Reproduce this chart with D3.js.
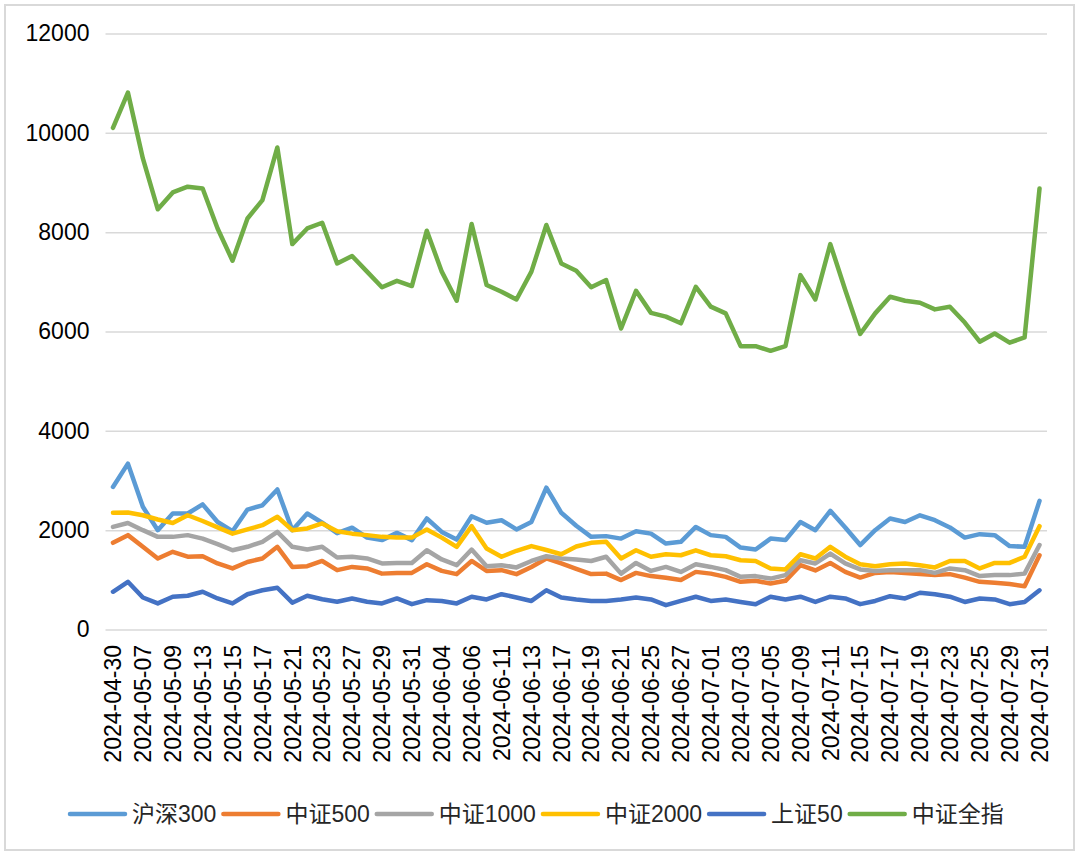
<!DOCTYPE html>
<html>
<head>
<meta charset="utf-8">
<script src="https://cdn.jsdelivr.net/npm/d3@7/dist/d3.min.js"></script>
<style>
  html, body { margin: 0; padding: 0; background: #fff; }
  svg { display: block; }
  text { font-family: "Liberation Sans", Arial, "Noto Sans CJK SC", sans-serif; }
</style>
</head>
<body>
<svg id="chart" width="1080" height="856"></svg>
<script>
const dates = [
  "2024-04-30","2024-05-06","2024-05-07","2024-05-08","2024-05-09","2024-05-10",
  "2024-05-13","2024-05-14","2024-05-15","2024-05-16","2024-05-17",
  "2024-05-20","2024-05-21","2024-05-22","2024-05-23","2024-05-24",
  "2024-05-27","2024-05-28","2024-05-29","2024-05-30","2024-05-31",
  "2024-06-03","2024-06-04","2024-06-05","2024-06-06","2024-06-07",
  "2024-06-11","2024-06-12","2024-06-13","2024-06-14",
  "2024-06-17","2024-06-18","2024-06-19","2024-06-20","2024-06-21",
  "2024-06-24","2024-06-25","2024-06-26","2024-06-27","2024-06-28",
  "2024-07-01","2024-07-02","2024-07-03","2024-07-04","2024-07-05",
  "2024-07-08","2024-07-09","2024-07-10","2024-07-11","2024-07-12",
  "2024-07-15","2024-07-16","2024-07-17","2024-07-18","2024-07-19",
  "2024-07-22","2024-07-23","2024-07-24","2024-07-25","2024-07-26",
  "2024-07-29","2024-07-30","2024-07-31"
];

const seriesNames = ["沪深300","中证500","中证1000","中证2000","上证50","中证全指"];
const seriesColors = ["#5B9BD5","#ED7D31","#A5A5A5","#FFC000","#4472C4","#70AD47"];

const hs300 = [2870,3340,2470,2000,2335,2335,2520,2165,1980,2415,2500,2820,2000,2335,2150,1940,
  2050,1850,1800,1945,1800,2235,1965,1810,2280,2150,2200,2015,2165,2855,2350,2090,
  1865,1880,1830,1980,1930,1730,1765,2065,1900,1865,1650,1610,1830,1800,2165,2000,
  2390,2055,1700,2000,2235,2165,2300,2200,2055,1850,1920,1900,1680,1665,2590];
const zz500 = [1745,1900,1665,1430,1565,1465,1475,1330,1230,1360,1430,1665,1260,1275,1380,1195,
  1260,1230,1125,1140,1140,1315,1180,1115,1380,1180,1195,1115,1260,1430,1330,1220,
  1115,1125,995,1140,1075,1040,995,1160,1125,1060,960,980,925,980,1295,1190,
  1340,1160,1045,1140,1160,1140,1115,1095,1115,1045,960,940,915,870,1495];
const zz1000 = [2065,2145,2000,1865,1865,1900,1830,1720,1595,1665,1765,1965,1665,1610,1665,1450,
  1465,1430,1330,1340,1340,1595,1410,1295,1610,1275,1295,1250,1380,1475,1430,1410,
  1380,1465,1125,1340,1180,1260,1160,1315,1260,1195,1060,1075,1025,1095,1395,1330,
  1530,1330,1210,1180,1195,1195,1195,1140,1230,1195,1075,1095,1095,1125,1700];
const zz2000 = [2350,2355,2300,2215,2145,2300,2185,2055,1930,2015,2100,2270,2000,2035,2135,1980,
  1930,1900,1865,1850,1850,2015,1850,1665,2080,1630,1465,1585,1680,1600,1515,1670,
  1745,1765,1430,1595,1465,1515,1495,1595,1495,1475,1395,1380,1230,1210,1515,1430,
  1665,1465,1315,1275,1315,1330,1295,1250,1380,1380,1230,1340,1340,1465,2080];
const sz50 = [760,960,645,525,660,680,760,625,525,710,790,840,540,680,610,560,
  625,560,525,625,510,590,575,525,660,605,710,645,575,790,645,605,
  575,575,605,645,605,490,575,660,575,605,555,510,660,605,660,555,
  660,625,510,575,670,625,740,710,660,555,625,605,510,555,790];
const zzqz = [10100,10810,9485,8460,8800,8915,8880,8075,7425,8275,8645,9705,7760,8075,8190,7370,7520,
  7205,6890,7020,6915,8030,7205,6620,8165,6935,6800,6645,7205,8145,7370,7225,6890,7035,6060,6820,6375,6300,6165,6900,
  6500,6365,5705,5705,5610,5705,7135,6645,7760,6835,5950,6365,6700,6620,6580,6445,6500,6180,5795,5960,5775,5880,8880];

const yTicks = [0,2000,4000,6000,8000,10000,12000];
const xTickDates = dates.filter((d,i) => i % 2 === 0);

const seriesValues = [hs300, zz500, zz1000, zz2000, sz50, zzqz];

const svg = d3.select("#chart");
const W = 1080, H = 856;
const plot = {left: 105.5, right: 1047, top: 33.5, bottom: 629.5};

svg.append("rect").attr("x",0).attr("y",0).attr("width",W).attr("height",H).attr("fill","#fff");
svg.append("rect").attr("x",5).attr("y",5).attr("width",1069).attr("height",845)
  .attr("fill","none").attr("stroke","#d9d9d9").attr("stroke-width",2);

const x = d3.scaleBand().domain(dates).range([plot.left, plot.right]);
const cx = d => x(d) + x.bandwidth()/2;
const y = d3.scaleLinear().domain([0,12000]).range([plot.bottom, plot.top]);

// gridlines
const grid = svg.append("g").attr("transform",`translate(${plot.left},0)`)
  .call(d3.axisLeft(y).tickValues(yTicks).tickSize(-(plot.right-plot.left)).tickFormat(""));
grid.select(".domain").remove();
grid.selectAll("line").attr("stroke","#d9d9d9").attr("stroke-width",1.5);

// y labels
const ya = svg.append("g").attr("transform",`translate(${plot.left},0)`)
  .call(d3.axisLeft(y).tickValues(yTicks).tickSize(0).tickPadding(16).tickFormat(d3.format("d")));
ya.select(".domain").remove();
ya.selectAll("text").attr("font-size",23).attr("fill","#000")
  .style("font-family",'"Liberation Sans", Arial, sans-serif');

// x labels
const xa = svg.append("g").attr("transform",`translate(0,${plot.bottom})`)
  .call(d3.axisBottom(x).tickValues(xTickDates).tickSize(0));
xa.select(".domain").remove();
xa.selectAll("text")
  .attr("transform","rotate(-90)")
  .attr("x",-15.5).attr("y",0).attr("dy","0.36em")
  .attr("text-anchor","end")
  .attr("font-size",23).attr("fill","#000")
  .style("font-family",'"Liberation Sans", Arial, sans-serif');

// lines
const line = d3.line().x((v,i) => cx(dates[i])).y(v => y(v));
seriesValues.forEach((vals, k) => {
  svg.append("path").datum(vals)
    .attr("d", line)
    .attr("fill","none")
    .attr("stroke", seriesColors[k])
    .attr("stroke-width",4.5)
    .attr("stroke-linejoin","round")
    .attr("stroke-linecap","round");
});

// legend
const leg = svg.append("g");
let lx = 70;
const ly = 814;
seriesNames.forEach((name, k) => {
  leg.append("line").attr("x1",lx).attr("x2",lx+55).attr("y1",ly).attr("y2",ly)
    .attr("stroke",seriesColors[k]).attr("stroke-width",4.5).attr("stroke-linecap","round");
  const t = leg.append("text").attr("x",lx+62).attr("y",ly).attr("dy","0.36em")
    .attr("font-size",23).attr("fill","#262626")
    .style("font-family",'"Liberation Sans", "Noto Sans CJK SC", sans-serif')
    .text(name);
  lx = lx + 62 + t.node().getComputedTextLength() + 7;
});
</script>
</body>
</html>
